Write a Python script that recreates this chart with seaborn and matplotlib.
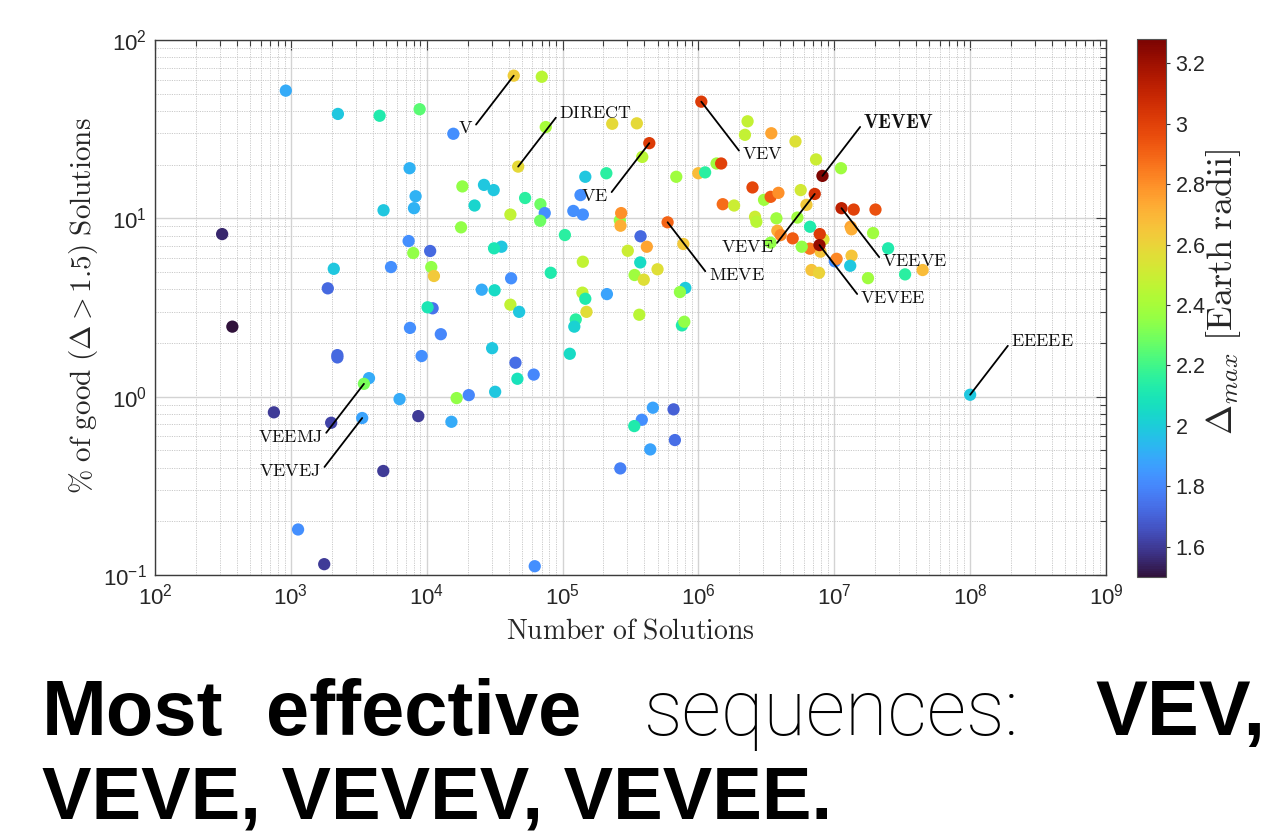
import numpy as np
import pandas as pd
import matplotlib
matplotlib.use("Agg")
import matplotlib.pyplot as plt
import seaborn as sns
from matplotlib.ticker import LogLocator, FuncFormatter, NullFormatter
from matplotlib.colors import Normalize

# ---------------- data ----------------
# labelled sequences
seq_names = ['V', 'DIRECT', 'VE', 'VEV', 'VEVEV', 'VEVE', 'MEVE', 'VEEVE',
             'VEVEE', 'EEEEE', 'VEEMJ', 'VEVEJ']
seq_n = [4.37e4, 4.71e4, 4.35e5, 1.05e6, 8.18e6, 7.18e6, 5.93e5, 1.13e7,
         7.78e6, 1.0e8, 3.45e3, 3.35e3]
seq_pct = [63.1, 19.5, 26.4, 45.1, 17.3, 13.7, 9.50, 11.4, 7.08, 1.025, 1.18, 0.759]
seq_delta = [2.62, 2.58, 3.02, 3.02, 3.27, 3.05, 2.90, 3.12, 3.22, 1.98, 2.30, 1.88]

# all other sequences
other_n = [918, 2220, 4500, 8870, 15700, 70300, 75200, 147000, 135500, 7480,
           18300, 26400, 31100, 53000, 68700, 73900, 68400, 41300, 22500, 8280,
           8060, 4810, 120000, 141000, 104000, 17900, 312, 7360, 10600, 7960,
           35500, 31300, 141000, 10800, 11300, 5460, 2070, 1870, 41800, 81800,
           25400, 31600, 140000, 147000, 41300, 47900, 11050, 10150, 150000, 371,
           7530, 12700, 125000, 122000, 30300, 45000, 61300, 46500, 113000, 2200,
           2200, 9170, 3760, 6310, 16600, 20400, 31900, 750, 1980, 8670,
           15200, 4790, 1130, 1760, 62400, 367000, 756000, 787000, 462000, 656000,
           383000, 337000, 671000, 442000, 266000, 232000, 352000, 386000, 210000, 687000,
           998000, 1.12e6, 1.36e6, 1.47e6, 2.30e6, 2.20e6, 3.44e6, 5.18e6, 7.34e6, 1.12e7,
           2.50e6, 5.66e6, 3.04e6, 3.40e6, 3.88e6, 6.24e6, 1.51e6, 1.83e6, 264000, 270000,
           267000, 375000, 774000, 417000, 302000, 373000, 500000, 339000, 396000, 801000,
           731000, 212000, 2.61e6, 2.67e6, 3.75e6, 5.35e6, 6.63e6, 8.32e6, 7.82e6, 7.91e6,
           6.60e6, 5.76e6, 4.94e6, 3.81e6, 4.03e6, 3.40e6, 1.01e7, 1.04e7, 1.34e7, 1.31e7,
           6.79e6, 7.72e6, 1.39e7, 2.01e7, 1.32e7, 1.34e7, 1.93e7, 2.49e7, 1.77e7, 3.32e7,
           4.47e7]
other_pct = [52.0, 38.5, 37.6, 40.9, 29.8, 62.2, 32.5, 17.1, 13.5, 19.1,
             15.1, 15.4, 14.4, 13.0, 12.0, 10.7, 9.69, 10.5, 11.8, 13.3,
             11.4, 11.1, 11.0, 10.5, 8.06, 8.90, 8.16, 7.46, 6.56, 6.39,
             6.93, 6.79, 5.71, 5.33, 4.75, 5.33, 5.21, 4.05, 4.61, 4.95,
             3.98, 3.95, 3.83, 3.54, 3.28, 2.99, 3.13, 3.17, 2.99, 2.47,
             2.43, 2.24, 2.71, 2.47, 1.87, 1.55, 1.33, 1.26, 1.74, 1.71,
             1.66, 1.69, 1.27, 0.969, 0.982, 1.02, 1.065, 0.817, 0.714, 0.778,
             0.723, 0.383, 0.180, 0.115, 0.112, 2.88, 2.51, 2.63, 0.867, 0.849,
             0.742, 0.684, 0.571, 0.506, 0.396, 33.9, 34.1, 22.1, 17.9, 17.1,
             17.9, 18.1, 20.3, 20.3, 35.0, 29.4, 30.0, 27.0, 21.4, 19.1,
             14.9, 14.4, 12.7, 13.2, 13.9, 11.9, 12.0, 11.8, 9.74, 10.7,
             9.09, 7.93, 7.18, 6.93, 6.58, 5.66, 5.18, 4.81, 4.53, 4.07,
             3.86, 3.76, 10.2, 9.57, 10.0, 10.1, 8.97, 7.62, 8.16, 6.50,
             6.76, 6.93, 7.72, 8.52, 8.06, 7.30, 5.74, 5.93, 6.17, 5.42,
             5.13, 4.95, 11.2, 11.2, 8.97, 8.68, 8.27, 6.79, 4.62, 4.85,
             5.13]
other_delta = [1.90, 1.98, 2.12, 2.25, 1.82, 2.45, 2.40, 1.98, 1.82, 1.92,
               2.35, 1.98, 1.98, 2.15, 2.28, 1.82, 2.28, 2.47, 2.03, 1.92,
               1.92, 1.98, 1.82, 1.82, 2.15, 2.35, 1.55, 1.82, 1.72, 2.35,
               1.98, 2.10, 2.47, 2.35, 2.64, 1.82, 1.98, 1.72, 1.82, 2.12,
               1.90, 2.05, 2.47, 2.12, 2.47, 1.98, 1.75, 2.10, 2.57, 1.50,
               1.82, 1.80, 2.15, 2.02, 1.98, 1.73, 1.80, 2.08, 2.05, 1.72,
               1.72, 1.82, 1.90, 1.90, 2.35, 1.80, 1.98, 1.60, 1.62, 1.60,
               1.90, 1.60, 1.82, 1.60, 1.82, 2.45, 2.12, 2.35, 1.88, 1.70,
               1.82, 2.12, 1.73, 1.88, 1.78, 2.58, 2.58, 2.45, 2.15, 2.38,
               2.68, 2.15, 2.38, 3.00, 2.48, 2.48, 2.75, 2.55, 2.50, 2.38,
               2.98, 2.52, 2.38, 2.92, 2.80, 2.64, 2.88, 2.50, 2.35, 2.80,
               2.72, 1.72, 2.64, 2.75, 2.50, 2.05, 2.56, 2.38, 2.56, 2.00,
               2.35, 1.88, 2.50, 2.45, 2.38, 2.38, 2.12, 2.55, 3.02, 2.65,
               2.85, 2.35, 2.92, 2.72, 2.82, 2.35, 1.82, 2.82, 2.65, 1.98,
               2.66, 2.60, 3.00, 2.95, 2.75, 2.72, 2.38, 2.12, 2.38, 2.15,
               2.68]

cbar_ticks = [1.6, 1.8, 2.0, 2.2, 2.4, 2.6, 2.8, 3.0, 3.2]
delta_range = (1.5, 3.28)

df = pd.DataFrame({
    'n': other_n + seq_n,
    'pct': other_pct + seq_pct,
    'delta': other_delta + seq_delta,
})

# ---------------- style ----------------
sns.set_theme(style='white')
plt.rcParams['font.family'] = ['Liberation Sans', 'DejaVu Sans']
# sans (Helvetica-like) maths for tick labels; Computer Modern per-text for labels
plt.rcParams['mathtext.fontset'] = 'custom'
plt.rcParams['mathtext.rm'] = 'Liberation Sans'
plt.rcParams['mathtext.it'] = 'Liberation Sans:italic'
plt.rcParams['mathtext.bf'] = 'Liberation Sans:bold'
plt.rcParams['mathtext.sf'] = 'Liberation Sans'
CM = 'cm'

W, H = 1277, 838
fig = plt.figure(figsize=(W / 100, H / 100), dpi=100)
ax = fig.add_axes([155 / W, 1 - 575 / H, (1106 - 155) / W, (575 - 40) / H])
cax = fig.add_axes([1137 / W, 1 - 577 / H, 29 / W, (577 - 39) / H])

norm = Normalize(*delta_range)
cmap = plt.get_cmap('turbo')

sns.scatterplot(data=df, x='n', y='pct', hue='delta', palette=cmap,
                hue_norm=norm, s=78, linewidth=0, legend=False, ax=ax, zorder=3)

ax.set_xscale('log')
ax.set_yscale('log')
ax.set_xlim(1e2, 1e9)
ax.set_ylim(1e-1, 1e2)

fmt = FuncFormatter(lambda v, p: r'$\mathdefault{10^{%d}}$' % int(round(np.log10(v))))
for axis in (ax.xaxis, ax.yaxis):
    axis.set_major_locator(LogLocator(base=10, numticks=20))
    axis.set_minor_locator(LogLocator(base=10, subs=np.arange(2, 10), numticks=200))
    axis.set_major_formatter(fmt)
    axis.set_minor_formatter(NullFormatter())

ax.grid(which='major', color='#d3d3d3', lw=1.0, ls='-', zorder=0)
ax.grid(which='minor', color='#cacaca', lw=0.7, ls=(0, (1.2, 1.2)), zorder=0)
ax.set_axisbelow(True)

edge = '#3c3c3c'
for sp in ax.spines.values():
    sp.set_color(edge)
    sp.set_linewidth(1.0)
ax.tick_params(which='both', direction='in', top=True, right=True,
               color=edge, width=0.8, labelsize=16, labelcolor='#262626')
ax.tick_params(which='major', length=7, pad=6)
ax.tick_params(which='minor', length=4)

ax.set_xlabel(r'$\mathrm{Number\ of\ Solutions}$', fontsize=20, color='#262626',
              math_fontfamily=CM)
ax.xaxis.set_label_coords(0.5, -0.082)
ax.set_ylabel(r'$\mathrm{\%\ of\ good\ }(\Delta > 1.5)\mathrm{\ Solutions}$',
              fontsize=21, color='#262626', math_fontfamily=CM)
ax.yaxis.set_label_coords(-0.058, 0.503)

# ---------------- annotations ----------------
ann_dx = 29.5
ann_dy = 38.3
ann_dir = {'V': (-1, -1), 'DIRECT': (1, 1), 'VE': (-1, -1), 'VEV': (1, -1),
           'VEVEV': (1, 1), 'VEVE': (-1, -1), 'MEVE': (1, -1), 'VEEVE': (1, -1),
           'VEVEE': (1, -1), 'EEEEE': (1, 1), 'VEEMJ': (-1, -1), 'VEVEJ': (-1, -1)}
for name, xv, yv in zip(seq_names, seq_n, seq_pct):
    sx, sy = ann_dir[name]
    bold = name == 'VEVEV'
    label = r'$\mathbf{%s}$' % name if bold else r'$\mathrm{%s}$' % name
    ax.annotate(label, xy=(xv, yv), xytext=(sx * ann_dx, sy * ann_dy),
                textcoords='offset points', ha='left' if sx > 0 else 'right',
                va='center', fontsize=14 if bold else 13, color='#111111', zorder=5,
                math_fontfamily=CM,
                arrowprops=dict(arrowstyle='-', color='black', lw=1.3,
                                shrinkA=0, shrinkB=0,
                                relpos=(0, 0.5) if sx > 0 else (1, 0.5)))

# ---------------- colorbar ----------------
sm = plt.cm.ScalarMappable(norm=norm, cmap=cmap)
cb = fig.colorbar(sm, cax=cax)
cb.outline.set_edgecolor('#555555')
cb.outline.set_linewidth(0.8)
cb.set_ticks(cbar_ticks)
cb.set_ticklabels(['%g' % t for t in cbar_ticks])
cax.tick_params(labelsize=15.5, length=3, width=0.8, color='#333333', direction='out',
                labelcolor='#262626', pad=4)
cb.set_label(r'$\Delta_{max}\ \mathrm{[Earth\ radii]}$', fontsize=26, color='#262626',
             math_fontfamily=CM)
cax.yaxis.set_label_coords(2.3, 0.53)

# ---------------- headline text ----------------
bold_font = ['Liberation Sans', 'DejaVu Sans']
light_font = ['Roboto', 'Lato', 'DejaVu Sans']
line1_y = 1 - 735 / H
line2_y = 1 - 818 / H
words = [
    ('Most', 42, line1_y, 'bold', 'left', 56),
    ('effective', 424, line1_y, 'bold', 'center', 56),
    ('sequences:', 832, line1_y, 'light', 'center', 56),
    ('VEV,', 1266, line1_y, 'bold', 'right', 56),
    ('VEVE, VEVEV, VEVEE.', 42, line2_y, 'bold', 'left', 53.5),
]
for txt, xp, yf, wt, ha, fs in words:
    fig.text(xp / W, yf, txt, fontsize=fs, ha=ha, va='baseline', color='black',
             fontweight='bold' if wt == 'bold' else 'light',
             family=bold_font if wt == 'bold' else light_font)

fig.savefig('out.png', dpi=100)
